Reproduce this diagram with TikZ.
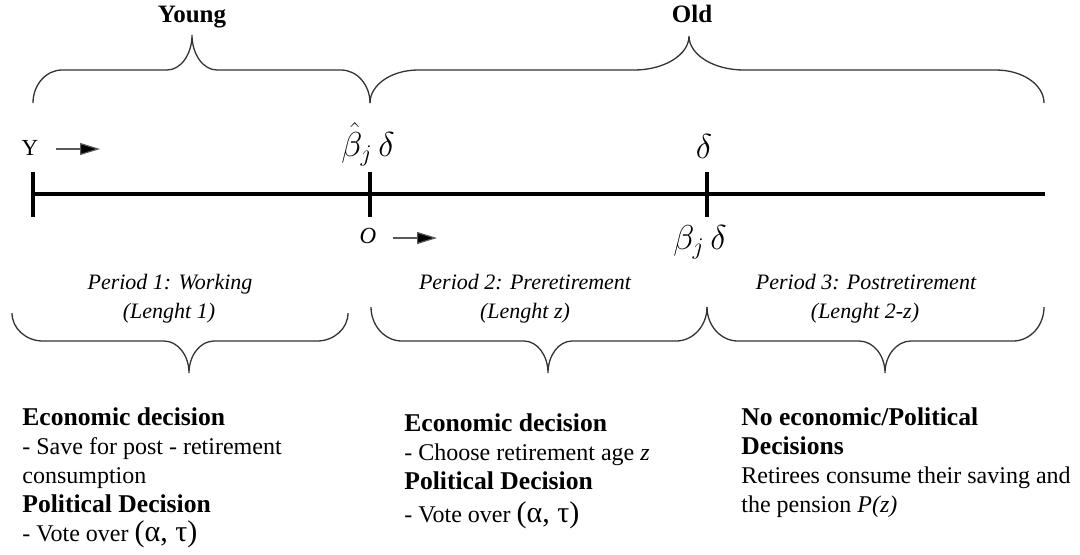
\documentclass[tikz,border=0pt]{standalone}
\usepackage{fontspec}
\setmainfont{Liberation Serif}
\usetikzlibrary{arrows.meta}
\tikzset{
  bracestyle/.style={draw=black!80, line width=0.65pt},
  axis/.style={line width=2.2pt, line cap=butt},
  tickmark/.style={line width=2pt},
  arr/.style={draw=black!65, line width=0.6pt, -{Triangle[length=10pt,width=6pt,fill=black]}},
  txt/.style={inner sep=0pt, anchor=base west, font=\fontsize{12}{14}\selectfont},
  bt/.style={txt, font=\fontsize{12.8}{14}\selectfont\bfseries},
  per/.style={inner sep=0pt, anchor=base, font=\fontsize{11}{13}\selectfont\itshape},
  mth/.style={inner sep=0pt, anchor=base, font=\fontsize{17}{17}\selectfont},
  head/.style={inner sep=0pt, anchor=base, font=\fontsize{12.5}{14}\selectfont\bfseries},
}
\newcommand\drawbrace[8]{%
  \draw[bracestyle] (#1,#4) .. controls (#1,{#4+0.552*(#5-#4)}) and ({#1+0.448*#7},#5) .. ({#1+#7},#5)
   -- ({#3-#8},#5) .. controls ({#3-0.448*#8},#5) and (#3,{#5+0.448*(#6-#5)}) .. (#3,#6)
   .. controls (#3,{#5+0.448*(#6-#5)}) and ({#3+0.448*#8},#5) .. ({#3+#8},#5)
   -- ({#2-#7},#5) .. controls ({#2-0.448*#7},#5) and (#2,{#4+0.552*(#5-#4)}) .. (#2,#4);}
\newcommand\paren[1]{{\fontsize{15}{15}\selectfont(#1)}}
\begin{document}
\begin{tikzpicture}[x=0.5pt,y=-0.5pt]
\useasboundingbox (0,0) rectangle (1080,554);
% top braces
\drawbrace{33}{370}{192}{103}{70}{35}{29}{25}
\drawbrace{370}{1044}{689}{103}{70}{36}{48}{55}
\node[head] (young) at (192,22) {Young};
\node[head] (old) at (692,22) {Old};
% timeline
\coordinate (t0) at (33,194);
\coordinate (t1) at (370,194);
\coordinate (t2) at (707,194);
\coordinate (t3) at (1045,194);
\draw[axis] (t0) -- (t3);
\foreach \p in {t0,t1,t2}{\draw[tickmark] ([yshift=11pt]\p) -- ([yshift=-11.5pt]\p);}
% Y and O markers
\node[inner sep=0pt, anchor=base, font=\fontsize{11.5}{13}\selectfont] (ylab) at (30,155) {Y};
\coordinate (ya0) at (56,149);
\coordinate (ya1) at (100,149);
\draw[arr] (ya0) -- (ya1);
\node[inner sep=0pt, anchor=base, font=\fontsize{11.5}{13}\selectfont\itshape] (olab) at (368,243) {O};
\coordinate (oa0) at (393,238);
\coordinate (oa1) at (437,238);
\draw[arr] (oa0) -- (oa1);
% math labels
\node[mth] (bhat) at (368,156) {$\hat{\beta}_{j}\,\delta$};
\node[mth] (delta) at (704,158) {$\delta$};
\node[mth] (bj) at (700,249) {$\beta_{j}\,\delta$};
% bottom braces
\drawbrace{12}{348}{189}{313}{341}{373}{31}{25}
\drawbrace{371}{707}{548}{307}{341}{373}{31}{24}
\drawbrace{707}{1044}{885}{307}{341}{373}{31}{26}
\node[per] (p1a) at (170,289) {Period 1: Working};
\node[per] (p1b) at (169,318) {(Lenght 1)};
\node[per] (p2a) at (525,289) {Period 2: Preretirement};
\node[per] (p2b) at (525,318) {(Lenght z)};
\node[per] (p3a) at (866,289) {Period 3: Postretirement};
\node[per] (p3b) at (865,318) {(Lenght 2-z)};
% block 1
\node[bt] (b1a) at (22,425) {Economic decision};
\node[txt] (b1b) at (22,454) {- Save for post - retirement};
\node[txt] (b1c) at (22,483) {consumption};
\node[bt] (b1d) at (22,512) {Political Decision};
\node[txt] (b1e) at (22,541) {- Vote over \paren{α, τ}};
% block 2
\node[bt] (b2a) at (404,431) {Economic decision};
\node[txt] (b2b) at (404,460) {- Choose retirement age \textit{z}};
\node[bt] (b2c) at (404,489) {Political Decision};
\node[txt] (b2d) at (404,522) {- Vote over \paren{α, τ}};
% block 3
\node[bt] (b3a) at (741,425) {No economic/Political};
\node[bt] (b3b) at (741,454) {Decisions};
\node[txt] (b3c) at (741,483) {Retirees consume their saving and};
\node[txt] (b3d) at (741,512) {the pension \textit{P(z)}};
\end{tikzpicture}
\end{document}
